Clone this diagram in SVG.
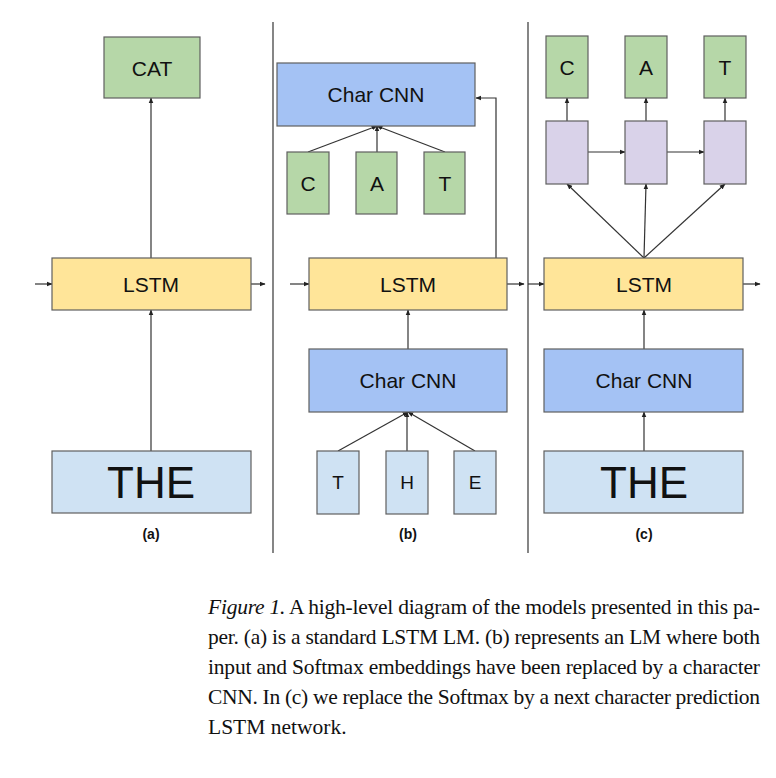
<svg xmlns="http://www.w3.org/2000/svg" width="776" height="778" viewBox="0 0 776 778">
<defs>
<style>
.b{stroke:#5f5f5f;stroke-width:1.2}
.g{fill:#b6d7a8}.bl{fill:#a4c2f4}.y{fill:#ffe599}.lb{fill:#cfe2f3}.p{fill:#d9d2e9}
.t{font-family:"Liberation Sans",Arial,sans-serif;fill:#111;text-anchor:middle}
.c{stroke:#333;stroke-width:1.2;fill:none;marker-end:url(#a)}
.cap{font-family:"Liberation Serif","Times New Roman",serif;font-size:21.5px;fill:#111}
</style>
<marker id="a" viewBox="0 0 10 10" refX="9" refY="5" markerWidth="5" markerHeight="5" orient="auto"><path d="M0,1 L10,5 L0,9 z" fill="#222"/></marker>
</defs>
<rect width="776" height="778" fill="#fff"/>
<line x1="273" y1="22" x2="273" y2="553" stroke="#444" stroke-width="1.3"/>
<line x1="528" y1="22" x2="528" y2="553" stroke="#444" stroke-width="1.3"/>
<g id="connectors">
<path class="c" d="M151,451 V310"/><path class="c" d="M151,258 V98"/>
<path class="c" d="M35,284 H52"/><path class="c" d="M251,284 H265"/>
<path class="c" d="M290,284 H309"/><path class="c" d="M507,284 H524"/>
<path class="c" d="M496,258 V98 H476"/>
<path class="c" d="M308,152 L377,126"/><path class="c" d="M377,152 V126"/><path class="c" d="M445,152 L377,126"/>
<path class="c" d="M408,349 V310"/>
<path class="c" d="M338,451 L408,412"/><path class="c" d="M407,451 V412"/><path class="c" d="M475,451 L408,412"/>
<path class="c" d="M528,284 H544"/><path class="c" d="M743,284 H760"/>
<path class="c" d="M644,451 V412"/><path class="c" d="M644,349 V310"/>
<path class="c" d="M644,258 L567,184"/><path class="c" d="M644,258 L646,184"/><path class="c" d="M644,258 L725,184"/>
<path class="c" d="M588,152 H625"/><path class="c" d="M667,152 H704"/>
<path class="c" d="M567,121 V98"/><path class="c" d="M646,121 V98"/><path class="c" d="M725,121 V98"/>
</g>
<g id="a-cat"><rect class="b g" x="104" y="37" width="96" height="61"/><text class="t" x="152" y="76" font-size="21">CAT</text></g>
<g id="a-lstm"><rect class="b y" x="52" y="258" width="199" height="52"/><text class="t" x="151" y="292" font-size="21">LSTM</text></g>
<g id="a-the"><rect class="b lb" x="52" y="451" width="199" height="62"/><text class="t" x="151" y="498" font-size="44">THE</text></g>
<g id="b-charcnn-top"><rect class="b bl" x="277" y="63" width="198" height="63"/><text class="t" x="376" y="102" font-size="21">Char CNN</text></g>
<g id="b-c"><rect class="b g" x="287" y="152" width="42" height="62"/><text class="t" x="308" y="191" font-size="21">C</text></g>
<g id="b-a"><rect class="b g" x="356" y="152" width="41" height="62"/><text class="t" x="377" y="191" font-size="21">A</text></g>
<g id="b-t"><rect class="b g" x="424" y="152" width="41" height="62"/><text class="t" x="445" y="191" font-size="21">T</text></g>
<g id="b-lstm"><rect class="b y" x="309" y="258" width="198" height="52"/><text class="t" x="408" y="292" font-size="21">LSTM</text></g>
<g id="b-charcnn"><rect class="b bl" x="309" y="349" width="198" height="63"/><text class="t" x="408" y="388" font-size="21">Char CNN</text></g>
<g id="b-tt"><rect class="b lb" x="317" y="451" width="42" height="63"/><text class="t" x="338" y="489" font-size="19">T</text></g>
<g id="b-h"><rect class="b lb" x="386" y="451" width="42" height="63"/><text class="t" x="407" y="489" font-size="19">H</text></g>
<g id="b-e"><rect class="b lb" x="454" y="451" width="42" height="63"/><text class="t" x="475" y="489" font-size="19">E</text></g>
<g id="c-c"><rect class="b g" x="546" y="36" width="42" height="62"/><text class="t" x="567" y="75" font-size="21">C</text></g>
<g id="c-a"><rect class="b g" x="625" y="36" width="42" height="62"/><text class="t" x="646" y="75" font-size="21">A</text></g>
<g id="c-t"><rect class="b g" x="704" y="36" width="42" height="62"/><text class="t" x="725" y="75" font-size="21">T</text></g>
<g id="c-p1"><rect class="b p" x="546" y="121" width="42" height="63"/></g>
<g id="c-p2"><rect class="b p" x="625" y="121" width="42" height="63"/></g>
<g id="c-p3"><rect class="b p" x="704" y="121" width="42" height="63"/></g>
<g id="c-lstm"><rect class="b y" x="544" y="258" width="199" height="52"/><text class="t" x="644" y="292" font-size="21">LSTM</text></g>
<g id="c-charcnn"><rect class="b bl" x="544" y="349" width="199" height="63"/><text class="t" x="644" y="388" font-size="21">Char CNN</text></g>
<g id="c-the"><rect class="b lb" x="544" y="451" width="199" height="62"/><text class="t" x="644" y="498" font-size="44">THE</text></g>
<g id="labels" font-weight="bold">
<text class="t" x="151" y="539" font-size="14">(a)</text>
<text class="t" x="408" y="539" font-size="14">(b)</text>
<text class="t" x="644" y="539" font-size="14">(c)</text>
</g>
<g id="caption" class="cap">
<text x="208" y="614" textLength="552" lengthAdjust="spacing"><tspan font-style="italic">Figure 1.</tspan> A high-level diagram of the models presented in this pa-</text>
<text x="208" y="644" textLength="552" lengthAdjust="spacing">per. (a) is a standard LSTM LM. (b) represents an LM where both</text>
<text x="208" y="674" textLength="552" lengthAdjust="spacing">input and Softmax embeddings have been replaced by a character</text>
<text x="208" y="704" textLength="552" lengthAdjust="spacing">CNN. In (c) we replace the Softmax by a next character prediction</text>
<text x="208" y="734">LSTM network.</text>
</g>
</svg>
